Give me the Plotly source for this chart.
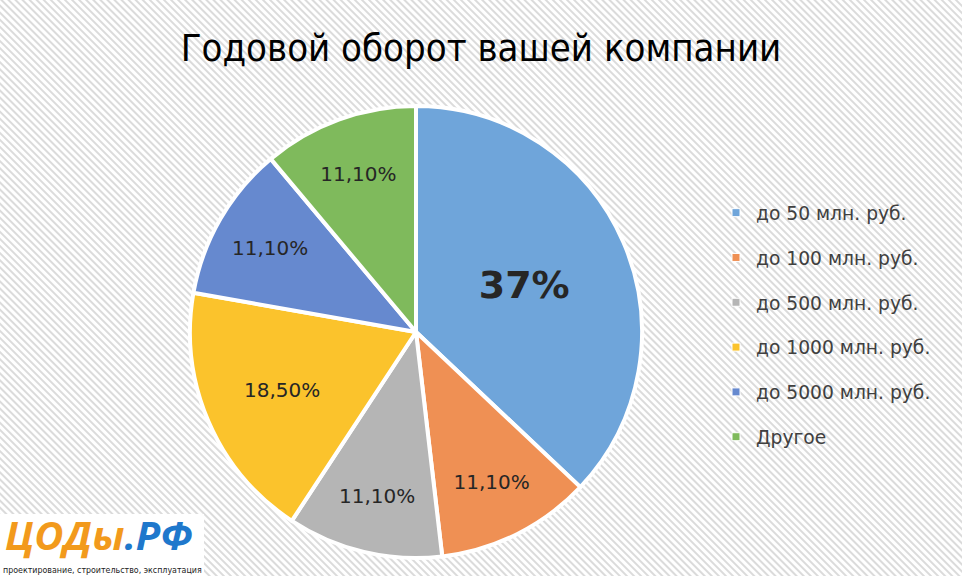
import base64
import plotly.graph_objects as go

# ---- data ----
categories = ["до 50 млн. руб.", "до 100 млн. руб.", "до 500 млн. руб.",
              "до 1000 млн. руб.", "до 5000 млн. руб.", "Другое"]
values = [37.0, 11.1, 11.1, 18.5, 11.1, 11.1]
value_labels = ["37%", "11,10%", "11,10%", "18,50%", "11,10%", "11,10%"]
title_text = "Годовой оборот вашей компании"

# ---- style ----
colors = ["#6fa5da", "#ef9054", "#b5b5b5", "#fbc32c", "#6689cf", "#7fba5c"]
W, H = 962, 576

bg_svg = (
    f"<svg xmlns='http://www.w3.org/2000/svg' width='{W}' height='{H}'>"
    "<defs><pattern id='p' width='5' height='5' patternUnits='userSpaceOnUse' "
    "patternTransform='rotate(-45)'>"
    "<rect width='5' height='5' fill='#ffffff'/>"
    "<line x1='1' y1='0' x2='1' y2='5' stroke='#d2d2d2' stroke-width='1.6'/>"
    "</pattern></defs><rect width='100%' height='100%' fill='url(#p)'/></svg>"
)
bg_uri = "data:image/svg+xml;base64," + base64.b64encode(bg_svg.encode()).decode()

texts = [f"<b>{t}</b>" if i == 0 else t for i, t in enumerate(value_labels)]
sizes = [38 if i == 0 else 20 for i in range(len(values))]

fig = go.Figure()
fig.add_trace(go.Pie(
    labels=categories, values=values, text=texts,
    texttemplate="%{text}", textposition="inside",
    insidetextorientation="horizontal",
    sort=False, direction="clockwise", rotation=0,
    marker=dict(colors=colors, line=dict(color="#ffffff", width=4)),
    textfont=dict(size=sizes, color="#262626", family="DejaVu Sans, sans-serif"),
    domain=dict(x=[190 / W, 642 / W], y=[(H - 558) / H, (H - 106) / H]),
    showlegend=False, hoverinfo="skip",
))

for i, (c, col) in enumerate(zip(categories, colors)):
    fig.add_trace(go.Scatter(
        x=[None], y=[None], mode="markers", name=c, legendgroup=f"g{i}",
        marker=dict(symbol="square", size=8, color=col,
                    line=dict(color="#ffffff", width=1)),
        hoverinfo="skip",
    ))

fig.update_layout(
    width=W, height=H,
    margin=dict(l=0, r=0, t=0, b=0),
    paper_bgcolor="#ebebeb", plot_bgcolor="rgba(0,0,0,0)",
    xaxis=dict(visible=False), yaxis=dict(visible=False),
    title=dict(text=title_text, x=0.5, xanchor="center", y=1 - 48 / H, yanchor="middle",
               font=dict(size=38, color="#000000",
                         family="Liberation Sans Narrow, DejaVu Sans Condensed, sans-serif")),
    legend=dict(x=716 / W, y=1 - 194 / H, xanchor="left", yanchor="top",
                font=dict(size=18.7, color="#404040", family="DejaVu Sans, sans-serif"),
                tracegroupgap=17.5, bgcolor="rgba(0,0,0,0)", itemclick=False),
    images=[dict(source=bg_uri, xref="paper", yref="paper", x=0, y=1,
                 sizex=1, sizey=1, sizing="stretch", layer="below")],
    shapes=[dict(type="rect", xref="paper", yref="paper",
                 x0=0, x1=204 / W, y0=0, y1=1 - 514 / H,
                 fillcolor="#ffffff", line=dict(width=0), layer="below")],
    annotations=[
        dict(text="<b><i><span style='color:#f29a1c'>ЦОДы</span>"
                  "<span style='color:#1f78cc'>.РФ</span></i></b>",
             x=4 / W, y=1 - 563 / H, xref="paper", yref="paper",
             xanchor="left", yanchor="bottom", showarrow=False,
             font=dict(size=40, family="Open Sans, sans-serif"),
             borderpad=0),
        dict(text="проектирование, строительство, эксплуатация",
             x=2 / W, y=1 - 564 / H, xref="paper", yref="paper",
             xanchor="left", yanchor="top", showarrow=False,
             font=dict(size=8.8, color="#222222", family="DejaVu Sans Condensed, sans-serif"),
             borderpad=0),
    ],
)

fig.write_html("out.html")
